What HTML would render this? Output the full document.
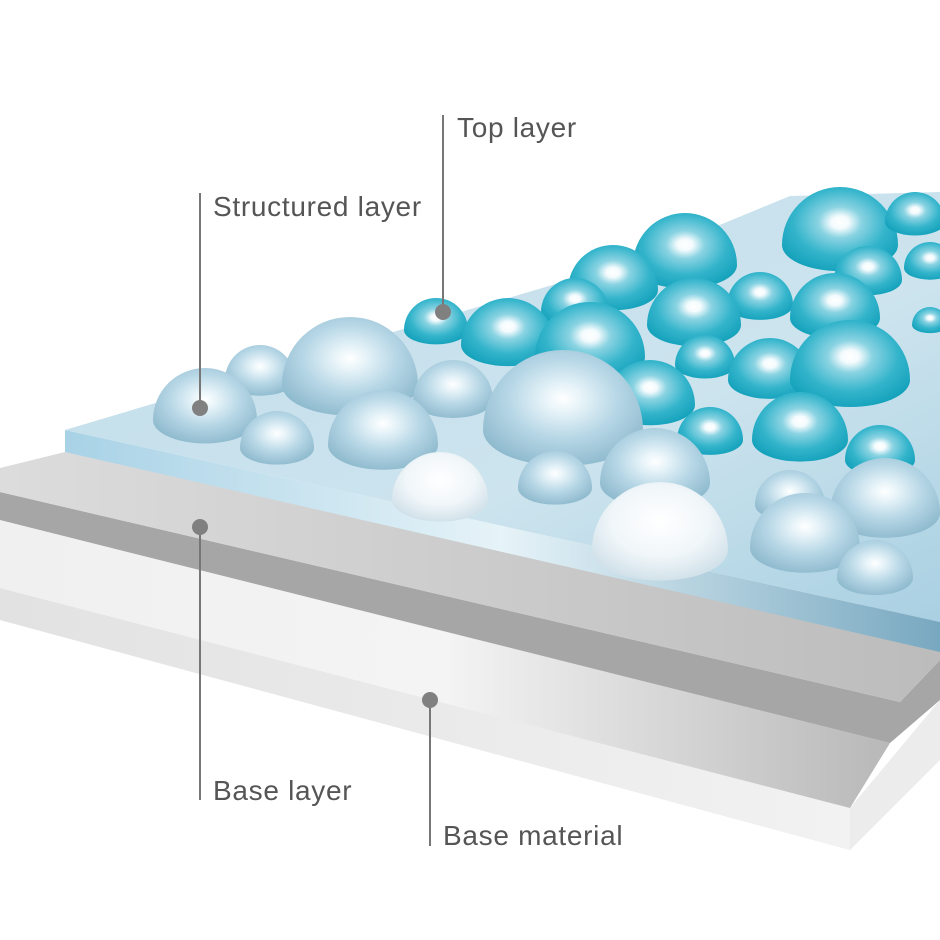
<!DOCTYPE html>
<html><head><meta charset="utf-8"><style>
html,body{margin:0;padding:0;background:#fff;}
svg{display:block}
text{font-family:"Liberation Sans",sans-serif;font-size:28px;fill:#555;letter-spacing:0.7px}
</style></head><body>
<svg width="940" height="940" viewBox="0 0 940 940" xmlns="http://www.w3.org/2000/svg">
<defs>
<radialGradient id="teal" cx="0.5" cy="0.42" r="0.62">
<stop offset="0" stop-color="#ffffff"/><stop offset="0.12" stop-color="#f4fbfd"/>
<stop offset="0.3" stop-color="#8ad3e2"/><stop offset="0.65" stop-color="#33b4cb"/><stop offset="1" stop-color="#12a0ba"/>
</radialGradient>
<radialGradient id="pale" cx="0.5" cy="0.42" r="0.62">
<stop offset="0" stop-color="#ffffff"/><stop offset="0.18" stop-color="#e8f4f9"/>
<stop offset="0.55" stop-color="#b7d7e6"/><stop offset="1" stop-color="#8cb8cc"/>
</radialGradient>
<radialGradient id="white" cx="0.5" cy="0.4" r="0.6">
<stop offset="0" stop-color="#ffffff"/><stop offset="0.6" stop-color="#f0f6f9"/><stop offset="1" stop-color="#d3e2ea"/>
</radialGradient>
<linearGradient id="btop" x1="0" y1="0" x2="1" y2="1">
<stop offset="0" stop-color="#bfdcea"/><stop offset="0.6" stop-color="#cde4ee"/><stop offset="1" stop-color="#a9d0e2"/>
</linearGradient>
<linearGradient id="bfront" x1="0" y1="0" x2="1" y2="0">
<stop offset="0" stop-color="#a8d2e6"/><stop offset="0.5" stop-color="#e6f3f8"/><stop offset="1" stop-color="#78a8c0"/>
</linearGradient>
<linearGradient id="g1" x1="0" y1="0" x2="1" y2="0">
<stop offset="0" stop-color="#dcdcdc"/><stop offset="1" stop-color="#bcbcbc"/>
</linearGradient>
<linearGradient id="g3" x1="0" y1="0" x2="1" y2="0">
<stop offset="0" stop-color="#f0f0f0"/><stop offset="0.5" stop-color="#f4f4f4"/><stop offset="1" stop-color="#b8b8b8"/>
</linearGradient>
<linearGradient id="g4" x1="0" y1="0" x2="1" y2="0">
<stop offset="0" stop-color="#e2e2e2"/><stop offset="1" stop-color="#f2f2f2"/>
</linearGradient>
</defs>

<polygon points="0,588 850,808 940,700 940,760 850,850 0,620" fill="#ececec"/>
<polygon points="0,588 850,808 850,850 0,620" fill="url(#g4)"/>
<polygon points="0,520 890,743 850,808 0,588" fill="url(#g3)"/>
<polygon points="0,492 900,702 940,660 940,700 890,743 0,520" fill="#a6a6a6"/>
<polygon points="0,468 65,452 940,620 940,660 900,702 0,492" fill="url(#g1)"/>
<polygon points="65,430 940,622 940,652 65,452" fill="url(#bfront)"/>
<polygon points="65,430 400,330 630,262 790,196 940,192 940,622" fill="url(#btop)"/>

<g id="domes"></g>

<g stroke="#777" stroke-width="2">
<line x1="443" y1="115" x2="443" y2="312"/>
<line x1="200" y1="193" x2="200" y2="408"/>
<line x1="200" y1="527" x2="200" y2="800"/>
<line x1="430" y1="700" x2="430" y2="846"/>
</g>
<g fill="#808080">
<circle cx="443" cy="312" r="8"/><circle cx="200" cy="408" r="8"/>
<circle cx="200" cy="527" r="8"/><circle cx="430" cy="700" r="8"/>
</g>
<text x="457" y="137">Top layer</text>
<text x="213" y="216">Structured layer</text>
<text x="213" y="800">Base layer</text>
<text x="443" y="845">Base material</text>
</svg>
<script>
var d=[
['t',840,245,58],['t',915,222,30],['t',930,268,26],['t',685,265,52],['t',613,290,45],
['t',868,280,34],['t',760,305,33],['t',575,312,34],['t',835,318,45],['t',694,325,47],
['t',436,330,32],['t',508,345,47],['t',590,357,55],['t',705,365,30],['t',930,325,18],
['t',770,380,42],['t',850,380,60],['t',650,405,45],['t',710,440,33],['t',800,440,48],
['t',880,460,35],['p',260,380,35],['p',350,385,68],['p',453,400,40],['p',205,420,52],
['p',563,430,80],['p',277,448,37],['p',383,445,55],['p',555,488,37],['p',655,483,55],
['p',790,505,35],['p',885,513,55],['p',805,548,55],['p',875,578,38],
['w',440,500,48],['w',660,550,68]];
var g=document.getElementById('domes'),s='';
d.forEach(function(a){var c=a[1],y=a[2],r=a[3],ry=r*0.45;
var f=a[0]=='t'?'teal':a[0]=='p'?'pale':'white';
s+='<path d="M'+(c-r)+','+y+' A'+r+','+r+' 0 0 1 '+(c+r)+','+y+' A'+r+','+ry+' 0 0 1 '+(c-r)+','+y+' Z" fill="url(#'+f+')"/>';});
g.innerHTML=s;
</script>
</body></html>
